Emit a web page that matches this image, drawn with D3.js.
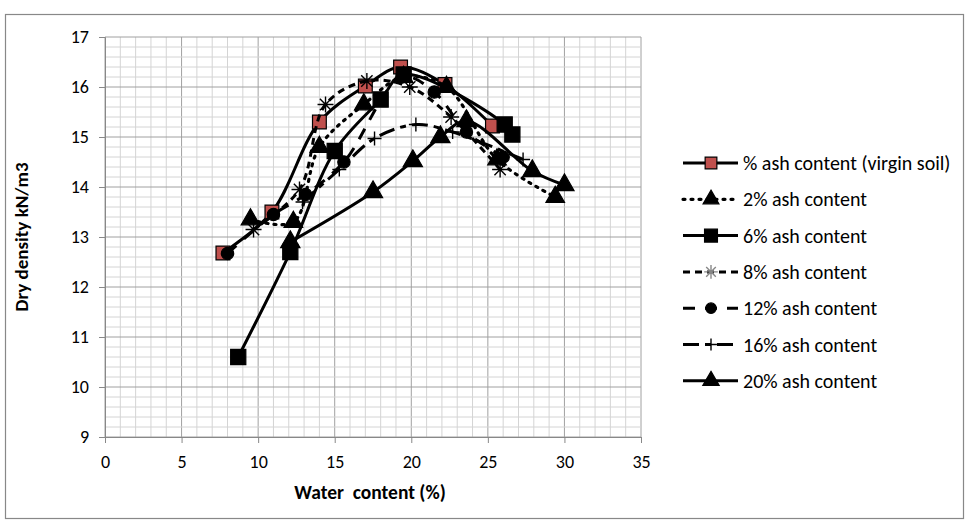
<!DOCTYPE html>
<html><head><meta charset="utf-8">
<script src="https://cdn.jsdelivr.net/npm/d3@7/dist/d3.min.js"></script>
<style>body{margin:0;background:#fff;} svg{display:block;} text{font-family:Calibri,Carlito,"Open Sans","Liberation Sans",sans-serif;}</style>
</head><body><svg id="c" width="968" height="524"></svg>
<script>
const seriesNames = ["% ash content (virgin soil)","2% ash content","6% ash content","8% ash content","12% ash content","16% ash content","20% ash content"];
const water0 = [7.7,10.9,14.0,17.0,19.3,22.2,25.3];
const dens0  = [12.68,13.5,15.3,16.02,16.4,16.05,15.22];
const water2 = [9.5,12.3,14.0,16.9,19.5,22.3,25.6,29.4];
const dens2  = [13.35,13.3,14.8,15.65,16.2,16.0,14.55,13.8];
const water6 = [8.7,12.1,15.0,18.0,19.5,26.1,26.6];
const dens6  = [10.6,12.7,14.72,15.75,16.25,15.25,15.05];
const water8 = [9.7,12.7,14.4,17.1,19.9,22.6,25.8];
const dens8  = [13.15,13.95,15.65,16.12,16.0,15.4,14.35];
const water12 = [8.0,11.0,13.1,15.6,19.4,21.5,23.6,26.0];
const dens12  = [12.67,13.45,13.85,14.5,16.2,15.9,15.1,14.6];
const water16 = [12.9,15.3,17.6,20.3,22.7,27.3];
const dens16  = [13.7,14.35,14.97,15.25,15.1,14.55];
const water20 = [12.1,17.5,20.1,21.9,23.6,27.9,30.0];
const dens20  = [12.9,13.9,14.52,15.0,15.32,14.32,14.04];
const xTicks = [0,5,10,15,20,25,30,35];
const yTicks = [9,10,11,12,13,14,15,16,17];

const waters = [water0,water2,water6,water8,water12,water16,water20];
const denss = [dens0,dens2,dens6,dens8,dens12,dens16,dens20];
const styles = [
  {dash:null, w:3, marker:"square", fill:"#c0504d", stroke:"#000", size:190},
  {dash:"2,6", w:3.2, marker:"triangle", fill:"#000", stroke:"#000", size:150, cap:"round"},
  {dash:null, w:3, marker:"square", fill:"#000", stroke:"#000", size:230},
  {dash:"7,5", w:3, marker:"asterisk", fill:"none", stroke:"#000", size:8},
  {dash:"12,10", w:3, marker:"circle", fill:"#000", stroke:"#000", size:120},
  {dash:"16,6,6,6", w:3, marker:"plus", fill:"none", stroke:"#000", size:7},
  {dash:null, w:3, marker:"triangle", fill:"#000", stroke:"#000", size:160}
];

const svg = d3.select("#c");
const L=105, R=641, T=37, B=437;
const x = d3.scaleLinear().domain([0,35]).range([L,R]);
const y = d3.scaleLinear().domain([9,17]).range([B,T]);

svg.append("rect").attr("x",5.5).attr("y",14.5).attr("width",958).attr("height",504)
  .attr("fill","#fff").attr("stroke","#888").attr("stroke-width",1.2);

const g = svg.append("g");
for (let v=0; v<=35; v+=1) {
  g.append("line").attr("x1",x(v)).attr("x2",x(v)).attr("y1",T).attr("y2",B)
   .attr("stroke", v%5===0 ? "#a0a0a0" : "#d4d4d4").attr("stroke-width",1);
}
for (let i=0;i<=40;i++) {
  const v = 9 + i*0.2;
  g.append("line").attr("x1",L).attr("x2",R).attr("y1",y(v)).attr("y2",y(v))
   .attr("stroke", i%5===0 ? "#a0a0a0" : "#d4d4d4").attr("stroke-width",1);
}
const xa = svg.append("g").attr("transform",`translate(0,${B})`)
  .call(d3.axisBottom(x).tickValues(xTicks).tickSize(6).tickPadding(12));
const ya = svg.append("g").attr("transform",`translate(${L},0)`)
  .call(d3.axisLeft(y).tickValues(yTicks).tickSize(6).tickPadding(10));
[xa,ya].forEach(a=>{
  a.select(".domain").attr("stroke","#888");
  a.selectAll(".tick line").attr("stroke","#888");
  a.selectAll(".tick text").attr("font-size",18).attr("fill","#000");
});

svg.append("text").attr("x",370).attr("y",499).attr("text-anchor","middle")
  .attr("font-size",19.5).attr("font-weight","bold").style("white-space","pre").text("Water  content (%)");
svg.append("text").attr("transform","translate(28,237) rotate(-90)").attr("text-anchor","middle")
  .attr("font-size",19).attr("font-weight","bold").text("Dry density kN/m3");

function drawMarker(sel, st, cx, cy, scale) {
  const k = scale||1;
  if (st.marker==="square" || st.marker==="triangle" || st.marker==="circle") {
    const type = st.marker==="square"?d3.symbolSquare:st.marker==="triangle"?d3.symbolTriangle:d3.symbolCircle;
    sel.append("path").attr("d", d3.symbol().type(type).size(st.size*k*k)())
      .attr("transform",`translate(${cx},${cy})`)
      .attr("fill",st.fill).attr("stroke",st.stroke).attr("stroke-width",1.2);
  } else if (st.marker==="asterisk") {
    const r = st.size*k;
    const p = d3.path();
    for (let a=0;a<4;a++){ const ang=a*Math.PI/4; p.moveTo(cx-r*Math.cos(ang),cy-r*Math.sin(ang)); p.lineTo(cx+r*Math.cos(ang),cy+r*Math.sin(ang)); }
    sel.append("path").attr("d",p.toString()).attr("stroke",st.legendStroke||"#000").attr("stroke-width",1.4).attr("fill","none");
  } else if (st.marker==="plus") {
    const r = st.size*k;
    const p = d3.path();
    p.moveTo(cx-r,cy); p.lineTo(cx+r,cy); p.moveTo(cx,cy-r); p.lineTo(cx,cy+r);
    sel.append("path").attr("d",p.toString()).attr("stroke","#000").attr("stroke-width",1.4).attr("fill","none");
  }
}

const line = d3.line().x(d=>x(d[0])).y(d=>y(d[1])).curve(d3.curveCatmullRom.alpha(0.5));
waters.forEach((wa,i)=>{
  const st = styles[i];
  const pts = wa.map((w,j)=>[w,denss[i][j]]);
  const sg = svg.append("g");
  sg.append("path").attr("d",line(pts)).attr("fill","none").attr("stroke","#000")
    .attr("stroke-width",st.w).attr("stroke-dasharray",st.dash).attr("stroke-linecap",st.cap||"butt");
  pts.forEach(p=>drawMarker(sg, st, x(p[0]), y(p[1])));
});

const lg = svg.append("g");
seriesNames.forEach((n,i)=>{
  const st = styles[i];
  const ly = 163 + i*36.3;
  lg.append("line").attr("x1",683).attr("x2",738).attr("y1",ly).attr("y2",ly)
    .attr("stroke","#000").attr("stroke-width",st.w).attr("stroke-dasharray",st.dash).attr("stroke-linecap",st.cap||"butt");
  const s2 = Object.assign({},st); if (st.marker==="asterisk") s2.legendStroke="#888";
  drawMarker(lg, s2, 711, ly, 0.85);
  lg.append("text").attr("x",743).attr("y",ly+7).attr("font-size",20).attr("fill","#000").text(n);
});
</script></body></html>
